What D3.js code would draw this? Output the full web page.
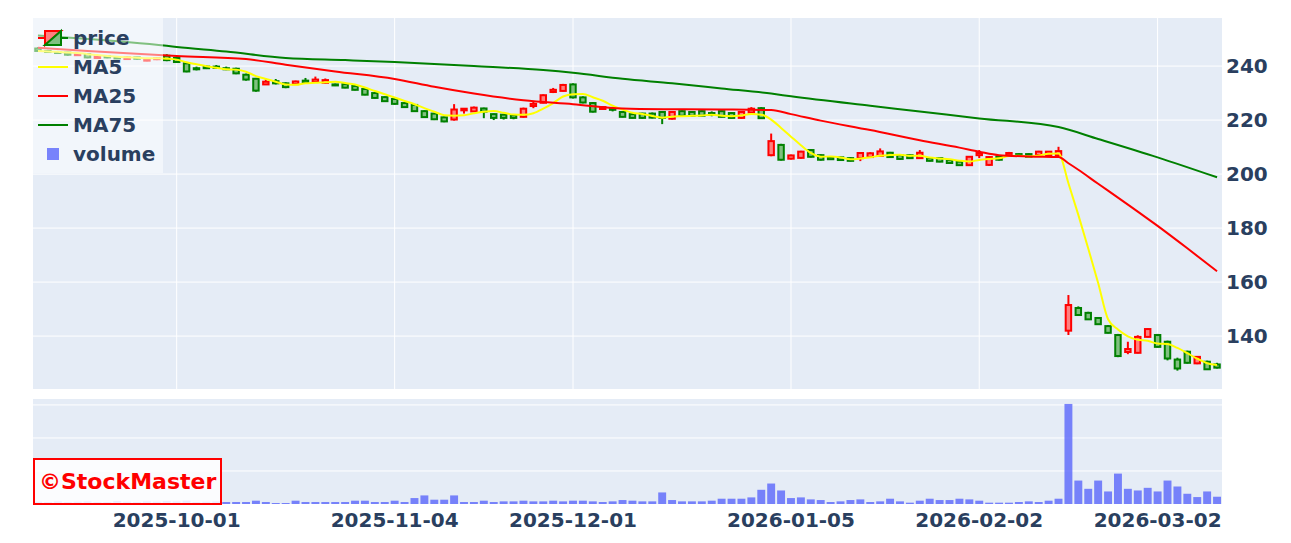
<!DOCTYPE html>
<html>
<head>
<meta charset="utf-8">
<script src="https://cdn.jsdelivr.net/npm/d3@7"></script>
<style>
  body { margin: 0; background: #fff; }
  text { font-family: "DejaVu Sans", Verdana, sans-serif; font-weight: bold; }
</style>
</head>
<body>
<svg id="chart" width="1291" height="543"></svg>
<script>
// trading days shown
var dates = [
  "2025-09-09","2025-09-10","2025-09-11","2025-09-12","2025-09-16","2025-09-17","2025-09-18","2025-09-19","2025-09-22","2025-09-24",
  "2025-09-25","2025-09-26","2025-09-29","2025-09-30",
  "2025-10-01","2025-10-02","2025-10-03","2025-10-06","2025-10-07","2025-10-08","2025-10-09","2025-10-10","2025-10-14","2025-10-15",
  "2025-10-16","2025-10-17","2025-10-20","2025-10-21","2025-10-22","2025-10-23","2025-10-24","2025-10-27","2025-10-28","2025-10-29",
  "2025-10-30","2025-10-31",
  "2025-11-04","2025-11-05","2025-11-06","2025-11-07","2025-11-10","2025-11-11","2025-11-12","2025-11-13","2025-11-14","2025-11-17",
  "2025-11-18","2025-11-19","2025-11-20","2025-11-21","2025-11-25","2025-11-26","2025-11-27","2025-11-28",
  "2025-12-01","2025-12-02","2025-12-03","2025-12-04","2025-12-05","2025-12-08","2025-12-09","2025-12-10","2025-12-11","2025-12-12",
  "2025-12-15","2025-12-16","2025-12-17","2025-12-18","2025-12-19","2025-12-22","2025-12-23","2025-12-24","2025-12-25","2025-12-26",
  "2025-12-29","2025-12-30",
  "2026-01-05","2026-01-06","2026-01-07","2026-01-08","2026-01-09","2026-01-13","2026-01-14","2026-01-15","2026-01-16","2026-01-19",
  "2026-01-20","2026-01-21","2026-01-22","2026-01-23","2026-01-26","2026-01-27","2026-01-28","2026-01-29","2026-01-30",
  "2026-02-02","2026-02-03","2026-02-04","2026-02-05","2026-02-06","2026-02-09","2026-02-10","2026-02-12","2026-02-13","2026-02-16",
  "2026-02-17","2026-02-18","2026-02-19","2026-02-20","2026-02-24","2026-02-25","2026-02-26","2026-02-27",
  "2026-03-02","2026-03-03","2026-03-04","2026-03-05","2026-03-06","2026-03-09","2026-03-10"
];

var open = [
  246.5,245.6,245.2,245.0,244.2,244.4,243.0,243.6,243.2,242.6,243.2,242.0,242.6,243.8,
  243.0,241.0,239.2,239.8,239.8,239.2,239.0,236.8,235.3,233.2,234.4,233.6,233.3,234.6,234.1,233.8,
  233.2,233.3,232.6,231.5,230.0,228.5,227.8,226.3,225.6,223.3,222.4,221.0,220.2,223.6,223.2,224.3,
  222.2,222.0,221.8,221.2,225.2,226.4,230.4,230.8,233.2,228.4,226.3,224.1,224.3,223.0,222.2,222.4,
  222.4,223.0,220.5,223.3,223.0,223.3,222.6,223.3,222.6,220.8,222.8,224.4,207.0,210.8,205.7,206.0,
  208.9,207.0,206.3,206.2,205.9,205.9,206.3,206.7,207.9,207.0,207.0,205.9,205.9,205.9,205.2,204.6,
  203.3,207.0,203.4,206.4,207.0,207.4,207.4,207.0,207.0,207.0,142.0,150.4,148.6,146.7,143.7,140.4,
  134.1,133.8,139.7,140.4,137.9,131.3,134.2,129.9,130.5,129.5
];
var high = [
  247.0,246.0,245.6,245.3,244.8,244.6,244.0,243.9,243.6,243.6,243.4,243.0,243.2,244.4,
  243.3,241.2,239.8,240.2,240.4,239.8,239.4,237.2,235.6,235.3,235.2,234.0,234.6,235.6,236.1,235.4,
  233.5,233.8,233.0,231.9,230.3,228.8,228.0,226.6,225.9,223.6,222.7,221.3,225.9,224.4,225.0,224.6,
  222.4,222.3,222.1,224.6,227.0,229.5,231.9,233.4,233.6,228.8,226.6,225.0,224.9,223.3,222.5,222.7,
  222.8,223.3,223.2,223.6,223.3,223.6,223.2,223.6,222.9,223.2,224.8,224.8,215.0,211.2,207.2,208.6,
  209.2,207.3,206.6,206.5,206.2,208.0,208.1,209.5,208.2,207.3,207.3,208.9,206.2,206.2,205.5,204.9,
  206.6,208.9,206.6,206.9,208.2,207.7,207.7,208.6,208.5,210.1,155.2,151.0,149.0,147.0,144.1,140.8,
  137.9,140.3,142.9,140.8,138.3,132.0,134.6,132.6,130.9,130.1
];
var low = [
  245.2,245.0,244.6,243.8,243.8,242.9,242.8,242.9,242.6,242.4,242.4,241.8,242.2,241.8,
  241.2,237.7,238.4,238.9,239.0,238.5,237.0,234.6,230.5,233.0,233.2,231.8,233.0,233.5,233.9,233.6,
  232.6,231.8,231.0,229.2,228.0,226.8,225.7,224.6,223.1,220.9,220.0,219.2,219.8,222.4,223.0,220.7,
  220.0,220.2,220.3,220.9,224.4,226.2,230.0,230.6,228.0,226.2,222.8,223.8,223.2,221.0,220.6,220.5,
  220.6,218.5,220.2,221.3,221.4,221.4,221.4,221.0,220.6,220.5,222.5,220.5,206.6,205.0,205.4,205.7,
  206.1,205.0,205.2,205.0,204.7,204.8,206.0,206.4,206.0,205.3,205.7,205.6,204.7,204.4,203.9,203.1,
  203.0,205.9,203.0,205.0,206.8,206.6,206.2,206.8,206.8,206.7,140.4,147.5,146.0,144.2,141.0,132.2,
  133.3,133.6,139.5,135.8,131.0,127.2,129.8,129.6,127.5,128.0
];
var close = [
  245.6,245.2,245.0,244.2,244.4,243.2,243.6,243.2,242.9,243.2,242.7,242.6,242.9,242.2,
  241.5,238.0,238.8,239.2,239.3,238.8,237.3,235.0,230.9,234.2,233.6,232.2,234.3,233.8,235.0,234.8,
  232.9,232.0,231.2,229.4,228.2,227.0,226.0,224.8,223.3,221.1,220.3,219.5,223.9,224.2,224.6,223.1,
  220.8,220.8,220.8,224.2,226.0,229.2,231.2,233.0,228.4,226.5,223.1,224.8,223.8,221.2,220.8,220.8,
  220.9,220.8,223.0,221.6,221.6,221.6,222.0,221.2,220.8,223.0,224.2,220.7,212.2,205.3,206.9,208.3,
  206.4,205.3,205.5,205.2,204.9,207.8,207.7,208.4,206.3,205.6,205.9,207.9,204.9,204.6,204.1,203.3,
  206.4,207.8,206.3,205.3,207.8,206.8,206.4,208.3,208.3,208.5,151.5,147.8,146.2,144.4,141.2,132.6,
  135.2,139.7,142.6,136.0,131.7,128.0,130.1,132.3,127.7,128.3
];
var volume = [
  700,600,800,600,700,800,600,600,900,700,600,800,700,900,
  800,1000,600,700,800,600,600,600,1000,600,300,300,1000,600,600,600,
  600,600,1000,1000,600,600,1000,600,1800,2600,1300,1300,2600,600,600,1000,
  600,800,800,1000,800,800,1000,800,1000,1000,800,600,800,1200,1000,800,
  800,3500,1200,800,800,800,1000,1600,1600,1600,2000,4300,6200,4100,1800,2000,
  1400,1200,600,800,1200,1400,600,800,1600,800,400,1000,1600,1200,1200,1600,
  1400,1000,400,400,400,600,800,600,1000,1600,30300,7100,4600,7100,3800,9200,
  4600,4100,4900,3800,7100,5300,3100,2100,3800,2200
];

var ma25Dates = ["2025-09-09","2025-09-17","2025-10-01","2025-10-10","2025-10-17","2025-10-24","2025-11-04","2025-11-10",
  "2025-11-14","2025-11-21","2025-12-01","2025-12-08","2025-12-15","2025-12-22","2025-12-29","2026-01-05","2026-01-08",
  "2026-01-16","2026-01-23","2026-01-29","2026-02-02","2026-02-04","2026-02-09","2026-02-13","2026-02-16","2026-02-17",
  "2026-02-19","2026-02-24","2026-03-02","2026-03-05","2026-03-10"];
var ma25Values = [246.8,245.6,243.7,242.6,240.5,238.0,235.2,232.3,229.8,227.3,225.9,224.3,224.0,223.9,223.7,222.2,219.8,
  216.3,212.5,209.8,208.3,207.0,206.5,206.3,204.0,201.6,196.4,191.3,180.8,172.5,164.0];
var ma75Dates = ["2025-09-09","2025-09-16","2025-09-30","2025-10-01","2025-10-08","2025-10-17","2025-10-27","2025-11-04",
  "2025-11-14","2025-11-26","2025-12-01","2025-12-08","2025-12-15","2025-12-22","2025-12-29","2026-01-05","2026-01-16",
  "2026-01-23","2026-02-02","2026-02-13","2026-02-19","2026-03-02","2026-03-10"];
var ma75Values = [251.3,250.3,247.5,247.1,245.4,243.0,242.2,241.5,240.0,238.5,237.5,235.3,233.6,231.7,229.8,228.8,225.3,
  223.2,220.6,217.4,213.0,206.2,198.8];

var priceTicks = [140, 160, 180, 200, 220, 240];
var volumeTicks = [10000, 20000, 30000];
var xTickDates = ["2025-10-01","2025-11-04","2025-12-01","2026-01-05","2026-02-02","2026-03-02"];

var svg = d3.select("#chart");
var left = 33, right = 1222, pTop = 18, pBottom = 389, vTop = 399, vBottom = 504;
var ink = "#2a3f5f", bg = "#E5ECF6";
var upColor = "#ff0000", downColor = "#008000";

var x = d3.scaleBand().domain(dates).range([left, right]).paddingInner(0.2).paddingOuter(0.1);
var step = x.step();
function cx(d) { return x(d) + x.bandwidth() / 2; }
var y = d3.scaleLinear().domain([120.4, 257.8]).range([pBottom, pTop]);
var yv = d3.scaleLinear().domain([0, 31800]).range([vBottom, vTop]);

var rows = dates.map(function(d, i) {
  return {date: d, o: open[i], h: high[i], l: low[i], c: close[i], v: volume[i],
          ma5: d3.mean(close.slice(Math.max(0, i - 4), i + 1))};
});

var defs = svg.append("defs");
defs.append("clipPath").attr("id", "clipP")
  .append("rect").attr("x", left).attr("y", pTop).attr("width", right - left).attr("height", pBottom - pTop);
defs.append("clipPath").attr("id", "clipV")
  .append("rect").attr("x", left).attr("y", vTop).attr("width", right - left).attr("height", vBottom - vTop);

// pane backgrounds
svg.append("rect").attr("x", left).attr("y", pTop).attr("width", right - left).attr("height", pBottom - pTop).attr("fill", bg);
svg.append("rect").attr("x", left).attr("y", vTop).attr("width", right - left).attr("height", vBottom - vTop).attr("fill", bg);

// grid
svg.append("g").selectAll("line").data(xTickDates).enter().append("line")
  .attr("x1", cx).attr("x2", cx).attr("y1", pTop).attr("y2", pBottom)
  .attr("stroke", "#fff").attr("stroke-width", 1);
svg.append("g").selectAll("line").data(priceTicks).enter().append("line")
  .attr("x1", left).attr("x2", right).attr("y1", function(d) { return y(d); }).attr("y2", function(d) { return y(d); })
  .attr("stroke", "#fff").attr("stroke-width", 1);
svg.append("g").selectAll("line").data(volumeTicks).enter().append("line")
  .attr("x1", left).attr("x2", right).attr("y1", function(d) { return yv(d); }).attr("y2", function(d) { return yv(d); })
  .attr("stroke", "#fff").attr("stroke-width", 1);

// candles
var bodyW = step * 0.55;
var candles = svg.append("g").attr("clip-path", "url(#clipP)")
  .selectAll("g").data(rows).enter().append("g");
candles.append("line")
  .attr("x1", function(d) { return cx(d.date); }).attr("x2", function(d) { return cx(d.date); })
  .attr("y1", function(d) { return y(d.h); }).attr("y2", function(d) { return y(d.l); })
  .attr("stroke", function(d) { return d.c >= d.o ? upColor : downColor; }).attr("stroke-width", 2);
candles.append("rect")
  .attr("x", function(d) { return cx(d.date) - bodyW / 2; })
  .attr("width", bodyW)
  .attr("y", function(d) { return y(Math.max(d.o, d.c)); })
  .attr("height", function(d) { return Math.max(1, Math.abs(y(d.o) - y(d.c))); })
  .attr("fill", function(d) { return d.c >= d.o ? "#ff8080" : "#80c080"; })
  .attr("stroke", function(d) { return d.c >= d.o ? upColor : downColor; }).attr("stroke-width", 2);

// moving averages
var line = d3.line().x(function(d) { return cx(d[0]); }).y(function(d) { return y(d[1]); }).curve(d3.curveMonotoneX);
var lines = svg.append("g").attr("clip-path", "url(#clipP)").attr("fill", "none").attr("stroke-width", 2);
lines.append("path").attr("d", line(rows.map(function(r) { return [r.date, r.ma5]; }))).attr("stroke", "#ffff00");
lines.append("path").attr("d", line(d3.zip(ma25Dates, ma25Values))).attr("stroke", upColor);
lines.append("path").attr("d", line(d3.zip(ma75Dates, ma75Values))).attr("stroke", downColor);

// volume
svg.append("g").attr("clip-path", "url(#clipV)")
  .selectAll("rect").data(rows).enter().append("rect")
  .attr("x", function(d) { return x(d.date); }).attr("width", x.bandwidth())
  .attr("y", function(d) { return yv(d.v); }).attr("height", function(d) { return yv(0) - yv(d.v); })
  .attr("fill", "#636efa").attr("fill-opacity", 0.85);

// axes
var yAxis = svg.append("g").attr("transform", "translate(" + right + ",0)")
  .call(d3.axisRight(y).tickValues(priceTicks).tickSize(0).tickPadding(4));
yAxis.select(".domain").remove();
yAxis.selectAll("text").attr("fill", ink).style("font-size", "20px");

var xAxis = svg.append("g").attr("transform", "translate(0," + vBottom + ")")
  .call(d3.axisBottom(x).tickValues(xTickDates).tickSize(0).tickPadding(9));
xAxis.select(".domain").remove();
xAxis.selectAll("text").attr("fill", ink).style("font-size", "20px");

// watermark
svg.append("rect").attr("x", 34).attr("y", 459).attr("width", 187).attr("height", 45)
  .attr("fill", "#fff").attr("fill-opacity", 0.85).attr("stroke", "#ff0000").attr("stroke-width", 2);
svg.append("text").attr("x", 39).attr("y", 481).attr("dominant-baseline", "central")
  .attr("fill", "#ff0000").style("font-size", "22px").text("\u00a9StockMaster");

// legend
var legend = svg.append("g");
legend.append("rect").attr("x", left).attr("y", pTop).attr("width", 130).attr("height", 155)
  .attr("fill", "#fff").attr("fill-opacity", 0.5);
var items = ["price", "MA5", "MA25", "MA75", "volume"];
var itemColor = [null, "#ffff00", upColor, downColor, null];
items.forEach(function(name, i) {
  var cy = 38 + i * 29;
  var g = legend.append("g");
  if (name === "price") {
    g.append("line").attr("x1", 38).attr("x2", 53).attr("y1", cy).attr("y2", cy).attr("stroke", upColor).attr("stroke-width", 2);
    g.append("line").attr("x1", 53).attr("x2", 68).attr("y1", cy).attr("y2", cy).attr("stroke", downColor).attr("stroke-width", 2);
    g.append("path").attr("d", "M45,31H61L45,45Z").attr("fill", "#ff8080").attr("stroke", upColor).attr("stroke-width", 2);
    g.append("path").attr("d", "M61,31V45H45Z").attr("fill", "#80c080").attr("stroke", downColor).attr("stroke-width", 2);
  } else if (name === "volume") {
    g.append("rect").attr("x", 47).attr("y", cy - 6).attr("width", 12).attr("height", 12)
      .attr("fill", "#636efa").attr("fill-opacity", 0.85);
  } else {
    g.append("line").attr("x1", 38).attr("x2", 68).attr("y1", cy).attr("y2", cy)
      .attr("stroke", itemColor[i]).attr("stroke-width", 2);
  }
  g.append("text").attr("x", 73).attr("y", cy).attr("dominant-baseline", "central")
    .attr("fill", ink).style("font-size", "20px").text(name);
});
</script>
</body>
</html>
